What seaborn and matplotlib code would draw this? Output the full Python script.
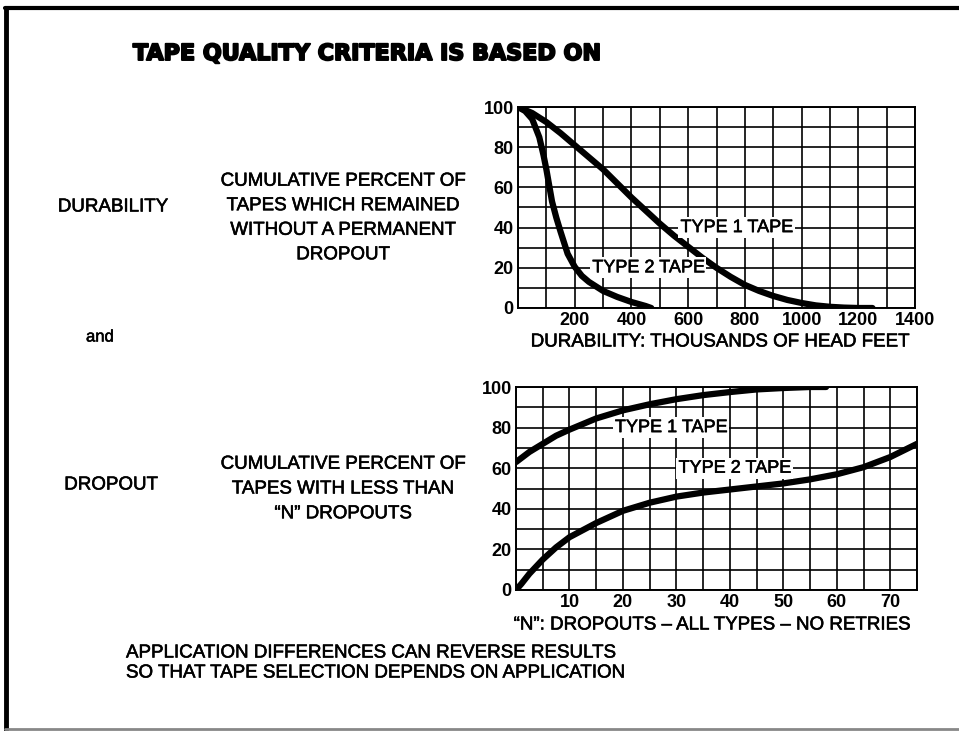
import matplotlib
matplotlib.use("Agg")
import pandas as pd
import matplotlib.pyplot as plt
import matplotlib.patheffects as pe
import seaborn as sns

# Durability: thousands of head feet vs cumulative percent of tapes w/o permanent dropout
dur_t1_x = [0, 50, 100, 150, 200, 250, 300, 350, 400, 450, 500, 550, 600, 650, 700,
            750, 800, 850, 900, 950, 1000, 1050, 1100, 1150, 1200, 1250]
dur_t1_y = [100, 97, 92.5, 87, 81, 75, 69, 62, 55, 48.5, 42, 36, 30.5, 25, 20,
            15.5, 11.5, 8.5, 6, 4, 2.5, 1.3, 0.6, 0.2, 0, 0]
dur_t2_x = [0, 25, 50, 75, 90, 100, 110, 120, 135, 150, 175, 200, 225, 250, 300,
            350, 400, 450, 470]
dur_t2_y = [100, 98, 94, 85, 76, 69, 61, 53, 45, 38, 27, 20.5, 16, 13, 8.5,
            5.5, 3, 1, 0]

# Dropout: "N" dropouts vs cumulative percent of tapes with less than N dropouts
drop_t1_x = [0, 2.5, 5, 7.5, 10, 15, 20, 25, 30, 35, 40, 45, 50, 55, 58]
drop_t1_y = [63, 68, 72, 76, 79, 84.5, 88.5, 91.5, 94, 96, 97.5, 98.8, 99.5, 100, 100]
drop_t2_x = [0, 1, 2.5, 5, 7.5, 10, 15, 20, 25, 30, 35, 40, 45, 50, 55, 60, 65, 70, 75]
drop_t2_y = [0, 3, 8, 15, 21, 26, 33, 39, 43, 46, 48, 49.5, 51, 52.5, 54.5, 57, 60.5, 65.5, 72]

dur_xticks = [200, 400, 600, 800, 1000, 1200, 1400]
drop_xticks = [10, 20, 30, 40, 50, 60, 70]
y_ticks = [0, 20, 40, 60, 80, 100]

dur_df = pd.concat([
    pd.DataFrame({"feet": dur_t1_x, "pct": dur_t1_y, "tape": "TYPE 1 TAPE"}),
    pd.DataFrame({"feet": dur_t2_x, "pct": dur_t2_y, "tape": "TYPE 2 TAPE"}),
])
drop_df = pd.concat([
    pd.DataFrame({"n": drop_t1_x, "pct": drop_t1_y, "tape": "TYPE 1 TAPE"}),
    pd.DataFrame({"n": drop_t2_x, "pct": drop_t2_y, "tape": "TYPE 2 TAPE"}),
])

sns.set_theme(style="white")
plt.rcParams["font.family"] = ["Liberation Sans", "DejaVu Sans"]
plt.rcParams["text.color"] = "black"
plt.rcParams["xtick.color"] = "black"
plt.rcParams["ytick.color"] = "black"
plt.rcParams["axes.labelcolor"] = "black"

W, H = 959, 731
fig = plt.figure(figsize=(W / 100, H / 100), dpi=100)
fig.patch.set_facecolor("white")

ink = [pe.withStroke(linewidth=0.4, foreground="black")]


def fx(px):
    return px / W


def fy(py):
    return 1 - py / H


ax1 = fig.add_axes([fx(518), fy(308), fx(915) - fx(518), fy(107) - fy(308)])
ax2 = fig.add_axes([fx(516), fy(590), fx(917) - fx(516), fy(387) - fy(590)])

sns.lineplot(data=dur_df, x="feet", y="pct", hue="tape", palette=["black", "black"],
             linewidth=4.5, legend=False, ax=ax1, zorder=3)
sns.lineplot(data=drop_df, x="n", y="pct", hue="tape", palette=["black", "black"],
             linewidth=4.5, legend=False, ax=ax2, zorder=3)


def style_grid(ax, xmax, xstep, xticks):
    ax.set_xlim(0, xmax)
    ax.set_ylim(0, 100)
    ax.set_xticks(xticks)
    ax.set_xticks([v * xstep for v in range(int(xmax / xstep) + 1)], minor=True)
    ax.set_yticks(y_ticks)
    ax.set_yticks(list(range(0, 101, 10)), minor=True)
    ax.grid(which="both", color="black", linewidth=1.2)
    ax.set_axisbelow(True)
    ax.tick_params(which="both", length=0, labelsize=13, pad=3)
    for lab in ax.get_xticklabels() + ax.get_yticklabels():
        lab.set_fontweight("bold")
    for sp in ax.spines.values():
        sp.set_color("black")
        sp.set_linewidth(1.4)
    ax.set_xlabel("")
    ax.set_ylabel("")


style_grid(ax1, 1400, 100, dur_xticks)
style_grid(ax2, 75, 5, drop_xticks)

txt_kw = dict(fontsize=13.5, va="center", path_effects=ink)

# axis titles
fig.text(fx(720), fy(342), "DURABILITY: THOUSANDS OF HEAD FEET", ha="center", **txt_kw)
fig.text(fx(712), fy(625), '\u201cN\u201d: DROPOUTS \u2013 ALL TYPES \u2013 NO RETRIES',
         ha="center", **txt_kw)

box = dict(facecolor="white", edgecolor="none", pad=1.5)
lab_kw = dict(fontsize=13, va="center", ha="left", bbox=box, zorder=5, path_effects=ink)
ax1.text(573, 40, "TYPE 1 TAPE", **lab_kw)
ax1.text(262, 20, "TYPE 2 TAPE", **lab_kw)
ax2.text(18.5, 80, "TYPE 1 TAPE", **lab_kw)
ax2.text(30.4, 60, "TYPE 2 TAPE", **lab_kw)

# heading and descriptive text
fig.text(fx(133), fy(54), "TAPE QUALITY CRITERIA IS BASED ON", fontsize=16,
         fontweight="bold", family="DejaVu Sans", va="center", ha="left",
         path_effects=[pe.withStroke(linewidth=1.4, foreground="black")])

fig.text(fx(113), fy(207), "DURABILITY", ha="center", **txt_kw)
fig.text(fx(343), fy(218), "CUMULATIVE PERCENT OF\nTAPES WHICH REMAINED\nWITHOUT A PERMANENT\nDROPOUT",
         ha="center", linespacing=1.58, **txt_kw)
fig.text(fx(100), fy(337), "and", fontsize=12, ha="center", va="center", path_effects=ink)
fig.text(fx(111), fy(485), "DROPOUT", ha="center", **txt_kw)
fig.text(fx(343), fy(489), "CUMULATIVE PERCENT OF\nTAPES WITH LESS THAN\n\u201cN\u201d DROPOUTS",
         ha="center", linespacing=1.6, **txt_kw)
fig.text(fx(126), fy(653), "APPLICATION DIFFERENCES CAN REVERSE RESULTS", ha="left", **txt_kw)
fig.text(fx(126), fy(673), "SO THAT TAPE SELECTION DEPENDS ON APPLICATION", ha="left", **txt_kw)

# page frame
fig.add_artist(plt.Line2D([fx(6), fx(6)], [fy(8), fy(731)], color="black", lw=3.5))
fig.add_artist(plt.Line2D([fx(5), fx(959)], [fy(8), fy(8)], color="black", lw=3))
fig.add_artist(plt.Line2D([fx(5), fx(959)], [fy(729), fy(729)], color="#888888", lw=2))

fig.savefig("out.png", dpi=100)
